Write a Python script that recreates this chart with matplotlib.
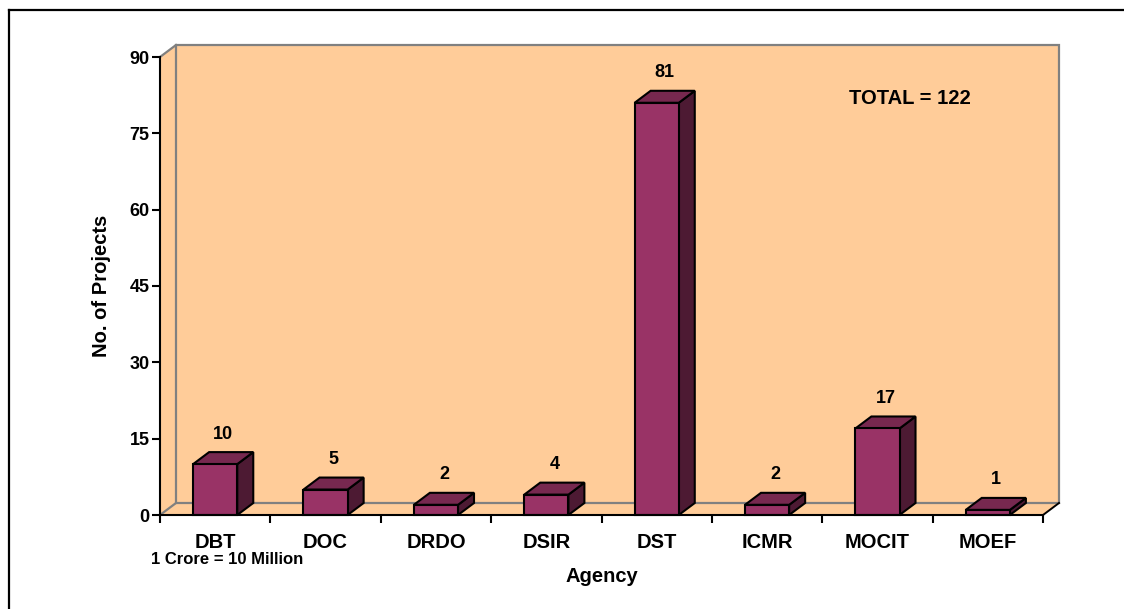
import matplotlib
matplotlib.use("Agg")
import matplotlib.pyplot as plt
from matplotlib.patches import Polygon, Rectangle
from matplotlib.lines import Line2D
from matplotlib.ticker import FixedLocator

plt.rcParams['font.family'] = ['Liberation Sans', 'DejaVu Sans']
plt.rcParams['font.weight'] = 'bold'

agencies = ["DBT", "DOC", "DRDO", "DSIR", "DST", "ICMR", "MOCIT", "MOEF"]
projects = [10, 5, 2, 4, 81, 2, 17, 1]
y_ticks = [0, 15, 30, 45, 60, 75, 90]

W, H = 1124, 609
fig = plt.figure(figsize=(W / 100, H / 100), dpi=100)

# axes placement in pixels (front plane)
x0p, x1p, y0p, y1p = 160, 1043, 515, 57
ax = fig.add_axes([x0p / W, (H - y0p) / H, (x1p - x0p) / W, (y0p - y1p) / H])
ax.set_xlim(0, len(agencies))
ax.set_ylim(0, 90)
ax.set_facecolor('none')

# depth offset in data units
px_x = len(agencies) / (x1p - x0p)
px_y = 90 / (y0p - y1p)
dx = 16 * px_x
dy = 12 * px_y
n = len(agencies)

peach = '#FFCC99'
grey = '#808080'
# floor, side wall, back wall
ax.add_patch(Polygon([(0, 0), (n, 0), (n + dx, dy), (dx, dy)], closed=True,
                     facecolor=peach, edgecolor='none', clip_on=False, zorder=0))
ax.add_patch(Polygon([(0, 0), (dx, dy), (dx, 90 + dy), (0, 90)], closed=True,
                     facecolor=peach, edgecolor='none', clip_on=False, zorder=0))
ax.add_patch(Rectangle((dx, dy), n, 90, facecolor=peach, edgecolor=grey,
                       linewidth=1.6, clip_on=False, zorder=0.5))
ax.add_line(Line2D([0, dx], [0, dy], color=grey, lw=1.6, clip_on=False, zorder=0.6))
ax.add_line(Line2D([0, dx], [90, 90 + dy], color=grey, lw=1.6, clip_on=False, zorder=0.6))
ax.add_line(Line2D([n, n + dx], [0, dy], color='black', lw=1.4, clip_on=False, zorder=0.6))

front = '#993366'
top = '#77284F'
side = '#4D1A33'
bw = 0.4
for i, v in enumerate(projects):
    xa = i + 0.5 - bw / 2
    xb = i + 0.5 + bw / 2
    ax.add_patch(Polygon([(xb, 0), (xb + dx, dy), (xb + dx, v + dy), (xb, v)], closed=True,
                         facecolor=side, edgecolor='black', lw=1.5, joinstyle='miter',
                         clip_on=False, zorder=3))
    ax.add_patch(Polygon([(xa, v), (xb, v), (xb + dx, v + dy), (xa + dx, v + dy)], closed=True,
                         facecolor=top, edgecolor='black', lw=1.5, joinstyle='miter',
                         clip_on=False, zorder=3))
    ax.add_patch(Rectangle((xa, 0), bw, v, facecolor=front, edgecolor='black', lw=1.5,
                           joinstyle='miter', clip_on=False, zorder=4))
    ax.annotate(str(v), xy=(i + 0.5 + dx / 2, v + dy), xytext=(0, 18 * 0.72),
                textcoords='offset points', ha='center', va='center',
                fontsize=13, fontweight='bold', zorder=5)

ax.text(6.79, 81.9, "TOTAL = 122", ha='center', va='center', fontsize=14.5,
        fontweight='bold')

# spines
for s in ['top', 'right']:
    ax.spines[s].set_visible(False)
for s in ['left', 'bottom']:
    ax.spines[s].set_linewidth(1.5)
    ax.spines[s].set_zorder(6)

ax.set_yticks(y_ticks)
ax.set_yticklabels([str(t) for t in y_ticks])
ax.tick_params(axis='y', direction='out', length=5.5, width=1.5, pad=2,
               labelsize=13)
for lb in ax.get_yticklabels():
    lb.set_fontweight('bold')

ax.xaxis.set_major_locator(FixedLocator(list(range(n + 1))))
ax.set_xticklabels([''] * (n + 1))
ax.xaxis.set_minor_locator(FixedLocator([i + 0.5 for i in range(n)]))
ax.set_xticklabels(agencies, minor=True)
ax.tick_params(axis='x', which='major', direction='out', length=6, width=1.5)
ax.tick_params(axis='x', which='minor', length=0, pad=13, labelsize=14.5)
for lb in ax.get_xticklabels(minor=True):
    lb.set_fontweight('bold')

ax.set_xlabel("Agency", fontsize=14.5, fontweight='bold', labelpad=11)
ax.set_ylabel("No. of Projects", fontsize=14.5, fontweight='bold', labelpad=13)

fig.text(150.7 / W, 1 - 559 / H, "1 Crore = 10 Million", ha='left', va='center',
         fontsize=12, fontweight='bold')

# outer frame (top and left only)
fig.add_artist(Line2D([9 / W, 1], [1 - 10 / H, 1 - 10 / H], transform=fig.transFigure,
                      color='black', lw=1.6))
fig.add_artist(Line2D([9 / W, 9 / W], [0, 1 - 10 / H], transform=fig.transFigure,
                      color='black', lw=1.6))

fig.savefig("out.png", dpi=100)
